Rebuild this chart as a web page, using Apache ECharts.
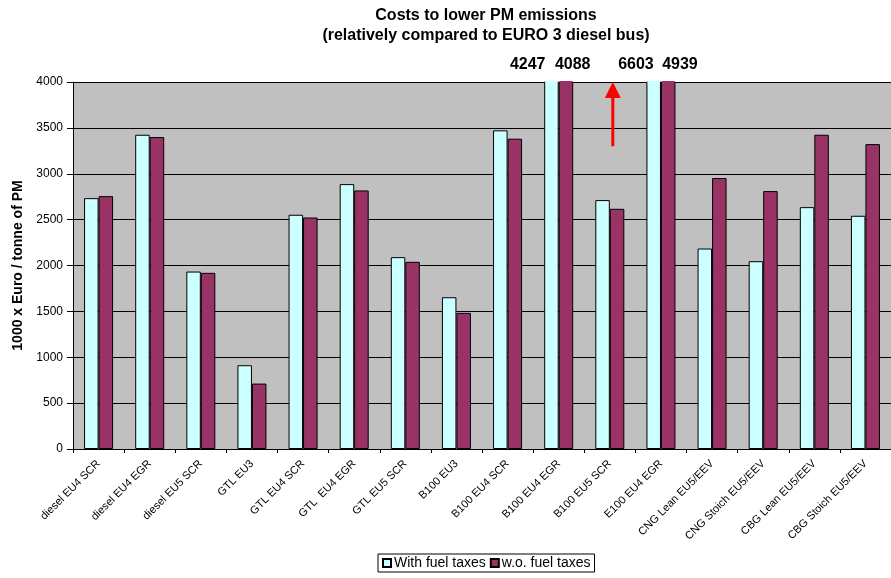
<!DOCTYPE html>
<html>
<head>
<meta charset="utf-8">
<script src="https://cdn.jsdelivr.net/npm/echarts@6/dist/echarts.min.js"></script>
<style>
html,body{margin:0;padding:0;background:#fff;}
#chart{width:891px;height:578px;}
</style>
</head>
<body>
<div id="chart"></div>
<script>
const categories = ['diesel EU4 SCR','diesel EU4 EGR','diesel EU5 SCR','GTL EU3','GTL EU4 SCR','GTL  EU4 EGR','GTL EU5 SCR','B100 EU3','B100 EU4 SCR','B100 EU4 EGR','B100 EU5 SCR','E100 EU4 EGR','CNG Lean EU5/EEV','CNG Stoich EU5/EEV','CBG Lean EU5/EEV','CBG Stoich EU5/EEV'];
const withTaxes = [2734, 3425, 1934, 913, 2553, 2887, 2091, 1654, 3473, 4247, 2713, 6603, 2185, 2047, 2636, 2542];
const withoutTaxes = [2756, 3400, 1920, 713, 2523, 2818, 2040, 1484, 3382, 4088, 2618, 4939, 2953, 2811, 3425, 3323];
const seriesNames = ['With fuel taxes', 'w.o. fuel taxes'];
const yTicks = [0, 500, 1000, 1500, 2000, 2500, 3000, 3500, 4000];
const arrowFrom = 3300;

const FONT = '"Liberation Sans", Arial, sans-serif';
const COLORS = ['#CCFFFF', '#993366'];
const BAR_W = 14.5;
const yMax = yTicks[yTicks.length - 1];
const chart = echarts.init(document.getElementById('chart'), null, {renderer: 'canvas'});

const option = {
  backgroundColor: '#ffffff',
  animation: false,
  title: {
    text: 'Costs to lower PM emissions\n(relatively compared to EURO 3 diesel bus)',
    left: 486,
    textAlign: 'center',
    top: 6,
    padding: 0,
    textStyle: {fontFamily: FONT, fontSize: 16, fontWeight: 'bold', color: '#000', lineHeight: 20}
  },
  legend: {
    data: seriesNames,
    left: 378,
    top: 554,
    icon: 'rect',
    itemWidth: 8,
    itemHeight: 8,
    itemGap: 4,
    padding: [2, 4, 2, 4],
    borderColor: '#000',
    borderWidth: 1,
    textStyle: {fontFamily: FONT, fontSize: 14, color: '#000', padding: [0, 0, 0, -2]}
  },
  grid: {
    left: 73, top: 82, width: 824, bottom: 129,
    show: true, backgroundColor: '#C0C0C0', borderWidth: 0,
    containLabel: false
  },
  xAxis: {
    type: 'category',
    data: categories,
    axisLine: {show: true, lineStyle: {color: '#000', width: 1}},
    axisTick: {show: true, length: 4, lineStyle: {color: '#000'}},
    axisLabel: {rotate: 45, interval: 0, fontFamily: FONT, fontSize: 11, color: '#000', margin: 13}
  },
  yAxis: {
    type: 'value',
    min: 0, max: yMax, interval: 500,
    name: '1000 x Euro / tonne of PM',
    nameLocation: 'middle',
    nameRotate: 90,
    nameGap: 47,
    nameTextStyle: {fontFamily: FONT, fontSize: 14, fontWeight: 'bold', color: '#000'},
    axisLine: {show: true, lineStyle: {color: '#000', width: 1}},
    axisTick: {show: true, length: 6, lineStyle: {color: '#000'}},
    axisLabel: {fontFamily: FONT, fontSize: 12, color: '#000', margin: 10,
      formatter: function (v) { return String(v); }},
    splitLine: {show: true, lineStyle: {color: '#000', width: 1}}
  },
  series: [
    {
      name: seriesNames[0], type: 'bar', data: withTaxes,
      barWidth: BAR_W, barGap: '0%', clip: true,
      itemStyle: {color: COLORS[0], borderColor: '#000', borderWidth: 1}
    },
    {
      name: seriesNames[1], type: 'bar', data: withoutTaxes,
      barWidth: BAR_W, barGap: '0%', clip: true,
      itemStyle: {color: COLORS[1], borderColor: '#000', borderWidth: 1}
    }
  ]
};
chart.setOption(option);

// Value labels for bars exceeding the axis max, and the arrow
const graphics = [];
const topY = chart.convertToPixel({yAxisIndex: 0}, yMax);
const overflow = [];
for (let i = 0; i < categories.length; i++) {
  if (withTaxes[i] > yMax || withoutTaxes[i] > yMax) overflow.push(i);
}
overflow.forEach(function (i, k) {
  const cx = chart.convertToPixel({xAxisIndex: 0}, categories[i]);
  const offA = k === 0 ? -31 : -25;
  const offB = k === 0 ? 14 : 19;
  graphics.push({type: 'text', x: cx + offA, y: topY - 17,
    style: {text: String(withTaxes[i]), font: 'bold 16px ' + FONT, fill: '#000', align: 'center', verticalAlign: 'middle'}});
  graphics.push({type: 'text', x: cx + offB, y: topY - 17,
    style: {text: String(withoutTaxes[i]), font: 'bold 16px ' + FONT, fill: '#000', align: 'center', verticalAlign: 'middle'}});
  // hide the top border of the clipped bars so they read as running off the scale
  [withTaxes[i], withoutTaxes[i]].forEach(function (v, s) {
    if (v > yMax) {
      const x0 = cx + (s === 0 ? -BAR_W : 0);
      graphics.push({type: 'rect', z: 100, silent: true,
        shape: {x: x0 + 1, y: topY - 1, width: BAR_W - 2, height: 2.5},
        style: {fill: COLORS[s]}});
    }
  });
});
// arrow between the two overflow groups (above B100 EU5 SCR)
const arrowCat = overflow.length > 1 ? overflow[0] + 1 : 10;
const ax = chart.convertToPixel({xAxisIndex: 0}, categories[arrowCat]) + 3;
const ayBottom = chart.convertToPixel({yAxisIndex: 0}, arrowFrom);
graphics.push({type: 'line', z: 100, shape: {x1: ax, y1: ayBottom, x2: ax, y2: topY + 14},
  style: {stroke: '#FF0000', lineWidth: 3}});
graphics.push({type: 'polygon', z: 100, shape: {points: [[ax, topY], [ax - 8, topY + 16], [ax + 8, topY + 16]]},
  style: {fill: '#FF0000'}});
chart.setOption({graphic: graphics});
</script>
</body>
</html>
